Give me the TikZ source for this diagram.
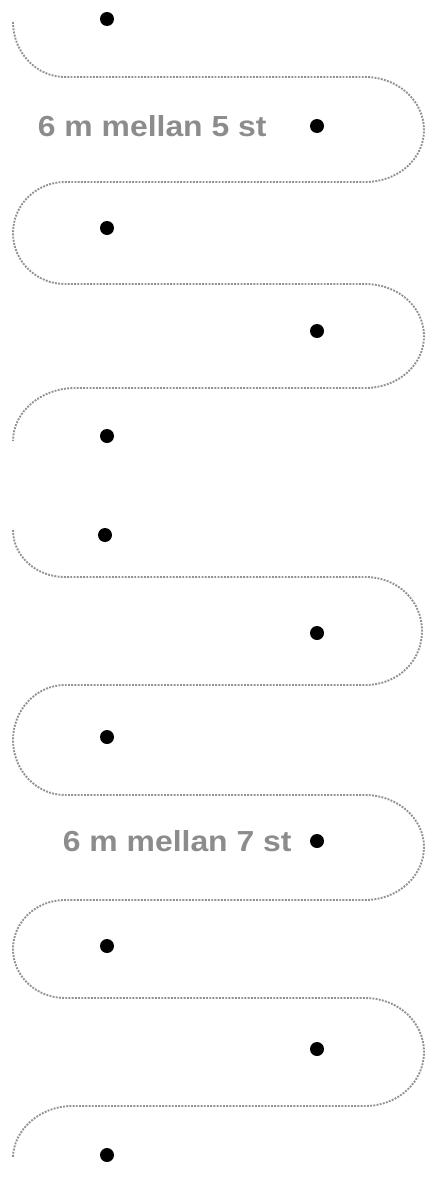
\documentclass[tikz,border=0pt]{standalone}
\usepackage{fontspec}
\setmainfont{Liberation Sans}
\usepackage{graphicx}
\usetikzlibrary{positioning}

\definecolor{trailgray}{HTML}{929292}
\definecolor{labgray}{HTML}{8C8C8C}

\begin{document}
\begin{tikzpicture}[
  x=1pt, y=-1pt,
  plant/.style={circle, fill=black, draw=none, inner sep=0pt, minimum width=13pt, minimum height=14pt},
  trail/.style={draw=trailgray, line width=1.9pt, dash pattern=on 1.9pt off 1.3pt},
  lab/.style={font=\fontsize{29}{30}\selectfont\bfseries, text=labgray, inner sep=0pt}
]
  \useasboundingbox (0,0) rectangle (430,1191);

  % upper row: 5 plants
  \node[plant] (a1) at (107,19) {};
  \node[plant] (a2) at (317,126) {};
  \node[plant] (a3) at (107,228) {};
  \node[plant] (a4) at (317,331) {};
  \node[plant] (a5) at (107,436) {};
  \node[lab, left=43pt of a2] (la) {\scalebox{1.1}[1]{6 m mellan 5 st}};

  \draw[trail] (13,22) .. controls (13,52) and (36,77) .. (65,77)
    -- (365,77) .. controls (398,77) and (424,101) .. (424,130)
    .. controls (424,159) and (398,182) .. (365,182)
    -- (65,182) .. controls (36,182) and (13,205) .. (13,233)
    .. controls (13,261) and (36,284) .. (65,284)
    -- (365,284) .. controls (398,284) and (424,307) .. (424,336)
    .. controls (424,365) and (398,388) .. (365,388)
    -- (75,388) .. controls (41,388) and (13,412) .. (13,441);

  % lower row: 7 plants
  \node[plant] (b1) at (105,535) {};
  \node[plant] (b2) at (317,633) {};
  \node[plant] (b3) at (107,737) {};
  \node[plant] (b4) at (317,841) {};
  \node[plant] (b5) at (107,946) {};
  \node[plant] (b6) at (317,1049) {};
  \node[plant] (b7) at (107,1155) {};
  \node[lab, left=18pt of b4] (lb) {\scalebox{1.1}[1]{6 m mellan 7 st}};

  \draw[trail] (13,530) .. controls (13,556) and (36,577) .. (65,577)
    -- (365,577) .. controls (398,577) and (422,601) .. (422,631)
    .. controls (422,661) and (398,685) .. (365,685)
    -- (65,685) .. controls (36,685) and (13,710) .. (13,740)
    .. controls (13,770) and (36,795) .. (65,795)
    -- (365,795) .. controls (398,795) and (424,819) .. (424,847)
    .. controls (424,876) and (398,900) .. (365,900)
    -- (65,900) .. controls (36,900) and (13,922) .. (13,949)
    .. controls (13,976) and (36,998) .. (65,998)
    -- (365,998) .. controls (398,998) and (424,1022) .. (424,1052)
    .. controls (424,1082) and (398,1106) .. (365,1106)
    -- (72,1106) .. controls (40,1106) and (13,1130) .. (13,1158);
\end{tikzpicture}
\end{document}
